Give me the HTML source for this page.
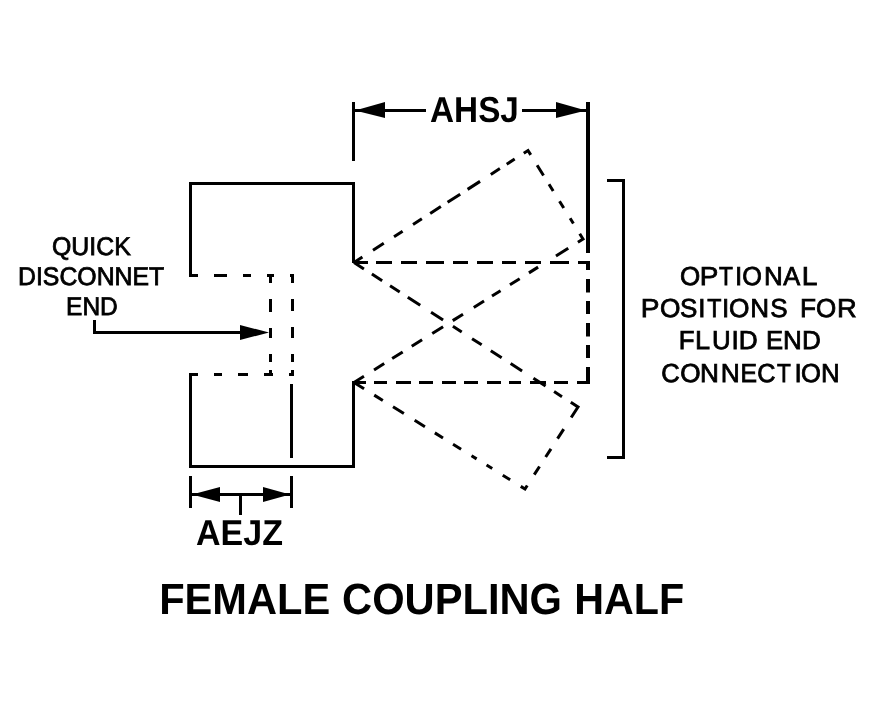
<!DOCTYPE html>
<html><head><meta charset="utf-8">
<style>
html,body{margin:0;padding:0;background:#fff;width:879px;height:708px;overflow:hidden}
svg{display:block;will-change:transform}
text{font-family:"Liberation Sans",sans-serif;fill:#000;text-rendering:geometricPrecision}
</style></head>
<body>
<svg width="879" height="708" viewBox="0 0 879 708">
<g fill="#000" stroke="none">
<rect x="189" y="182" width="3" height="95"/>
<rect x="189" y="182" width="166" height="3"/>
<rect x="352" y="182" width="3" height="81"/>
<rect x="189" y="373" width="3" height="95"/>
<rect x="189" y="465" width="166" height="3"/>
<rect x="352" y="381" width="3" height="87"/>
<rect x="290" y="384" width="3" height="74"/>
<rect x="189" y="274" width="9" height="3"/>
<rect x="214" y="274" width="13" height="3"/>
<rect x="243" y="274" width="8" height="3"/>
<rect x="267" y="274" width="7" height="3"/>
<rect x="290" y="274" width="4" height="3"/>
<rect x="189" y="373" width="9" height="3"/>
<rect x="214" y="373" width="8" height="3"/>
<rect x="238" y="373" width="10" height="3"/>
<rect x="264" y="373" width="9" height="3"/>
<rect x="289" y="373" width="5" height="3"/>
<rect x="269" y="274" width="3" height="9"/>
<rect x="269" y="299" width="3" height="13"/>
<rect x="269" y="328" width="3" height="10"/>
<rect x="269" y="354" width="3" height="8"/>
<rect x="269" y="370" width="3" height="6"/>
<rect x="291" y="274" width="3" height="9"/>
<rect x="291" y="299" width="3" height="12"/>
<rect x="291" y="327" width="3" height="11"/>
<rect x="291" y="354" width="3" height="8"/>
<rect x="291" y="370" width="3" height="6"/>
<rect x="355" y="261" width="13" height="3"/>
<rect x="376" y="261" width="16" height="3"/>
<rect x="401" y="261" width="16" height="3"/>
<rect x="426" y="261" width="18" height="3"/>
<rect x="453" y="261" width="15" height="3"/>
<rect x="477" y="261" width="16" height="3"/>
<rect x="502" y="261" width="14" height="3"/>
<rect x="525" y="261" width="16" height="3"/>
<rect x="550" y="261" width="19" height="3"/>
<rect x="578" y="261" width="12" height="3"/>
<rect x="586" y="261" width="4" height="9"/>
<rect x="586" y="279" width="4" height="13.5"/>
<rect x="586" y="301" width="4" height="13"/>
<rect x="586" y="323" width="4" height="13.5"/>
<rect x="586" y="345" width="4" height="13"/>
<rect x="586" y="367" width="4" height="17"/>
<rect x="355" y="381" width="11" height="3"/>
<rect x="374" y="381" width="13" height="3"/>
<rect x="396" y="381" width="15" height="3"/>
<rect x="419" y="381" width="14" height="3"/>
<rect x="442" y="381" width="14" height="3"/>
<rect x="464" y="381" width="14" height="3"/>
<rect x="487" y="381" width="14" height="3"/>
<rect x="509" y="381" width="12" height="3"/>
<rect x="530" y="381" width="16" height="3"/>
<rect x="554" y="381" width="14" height="3"/>
<rect x="577" y="381" width="13" height="3"/>
<rect x="352" y="102" width="3" height="59"/>
<rect x="586" y="102" width="4" height="151"/>
<rect x="355" y="109" width="71" height="3"/>
<rect x="522" y="109" width="64" height="3"/>
<polygon points="355,110.5 385,102 385,118"/>
<polygon points="586,110.5 556,102 556,118"/>
<rect x="607" y="179" width="18" height="3"/>
<rect x="622" y="179" width="3" height="280"/>
<rect x="607" y="456" width="18" height="3"/>
<rect x="93" y="320" width="3" height="14"/>
<rect x="93" y="331" width="147" height="3"/>
<polygon points="269,332.5 240,325 240,340"/>
<rect x="189" y="476" width="3" height="32"/>
<rect x="290" y="476" width="3" height="32"/>
<rect x="192" y="493" width="98" height="3"/>
<polygon points="192,494.5 220,487 220,502"/>
<polygon points="290,494.5 263,487 263,502"/>
<rect x="239" y="494" width="3" height="21"/>
</g>
<g fill="none" stroke="#000" stroke-width="3" stroke-linejoin="miter">
<path d="M354,262.5 L528,150.5 L583,239 L354,382.5" stroke-dasharray="10.00 12.60 12.80 12.20 10.20 12.40 10.50 9.90 12.70 8.00 15.00 8.80 14.80 12.80 10.80 8.10 9.50 10.80 10.23 12.10 12.10 10.40 7.90 12.00 8.00 12.10 6.20 12.00 12.20 11.40 14.50 21.10 10.80 10.90 11.50 11.10 10.10 9.40 12.10 12.70 12.10 11.40 12.80 12.00 12.20 10.70 12.40 9.40 12.00 11.90 11.75 1000.00"/>
<path d="M354,262.5 L578,407 L525,489 L354,382.5" stroke-dasharray="11.80 9.50 12.20 9.40 11.50 9.60 14.80 12.90 14.30 11.70 10.50 12.30 11.40 10.90 12.90 10.70 13.60 13.50 14.50 10.10 9.40 10.50 21.06 13.80 11.40 12.10 9.80 11.30 9.70 12.90 9.14 12.50 8.70 12.40 6.70 11.70 6.00 12.30 9.50 11.80 9.60 11.70 12.10 12.70 12.80 12.00 10.10 12.00 11.85 1000.00"/>
</g>
<text transform="translate(430.08,122) scale(0.9247,1)" font-weight="bold" font-size="36">AHSJ</text>
<text transform="translate(196.06,545) scale(0.9444,1)" font-weight="bold" font-size="36">AEJZ</text>
<text transform="translate(159.14,614) scale(0.9543,1)" font-weight="bold" font-size="43.6">FEMALE</text>
<text transform="translate(342.09,614) scale(0.9558,1)" font-weight="bold" font-size="43.6">COUPLING</text>
<text transform="translate(574.16,614) scale(0.9464,1)" font-weight="bold" font-size="43.6">HALF</text>
<text transform="translate(52.02,255) scale(0.9750,1)" font-weight="normal" font-size="25.5" stroke="#000" stroke-width="0.8">QUICK</text>
<text transform="translate(18.05,285) scale(0.9730,1)" font-weight="normal" font-size="25.5" stroke="#000" stroke-width="0.8">DISCONNET</text>
<text transform="translate(66.08,315) scale(0.9608,1)" font-weight="normal" font-size="25.5" stroke="#000" stroke-width="0.8">END</text>
<text transform="translate(680.10,285) scale(1.0000,1)" font-size="26" stroke="#000" stroke-width="0.8">O</text>
<text transform="translate(699.86,285) scale(1.0714,1)" font-size="26" stroke="#000" stroke-width="0.8">P</text>
<text transform="translate(719.00,285) scale(0.8750,1)" font-size="26" stroke="#000" stroke-width="0.8">T</text>
<text transform="translate(734.95,285) scale(1.0000,1)" font-size="26" stroke="#000" stroke-width="0.8">I</text>
<text transform="translate(742.23,285) scale(0.9722,1)" font-size="26" stroke="#000" stroke-width="0.8">O</text>
<text transform="translate(764.00,285) scale(1.0000,1)" font-size="26" stroke="#000" stroke-width="0.8">N</text>
<text transform="translate(783.30,285) scale(0.9778,1)" font-size="26" stroke="#000" stroke-width="0.8">A</text>
<text transform="translate(801.83,285) scale(1.0833,1)" font-size="26" stroke="#000" stroke-width="0.8">L</text>
<text transform="translate(640.74,317) scale(1.0786,1)" font-size="26" stroke="#000" stroke-width="0.8">P</text>
<text transform="translate(660.09,317) scale(1.0111,1)" font-size="26" stroke="#000" stroke-width="0.8">O</text>
<text transform="translate(680.00,317) scale(1.0000,1)" font-size="26" stroke="#000" stroke-width="0.8">S</text>
<text transform="translate(698.15,317) scale(1.0000,1)" font-size="26" stroke="#000" stroke-width="0.8">I</text>
<text transform="translate(707.20,317) scale(0.8937,1)" font-size="26" stroke="#000" stroke-width="0.8">T</text>
<text transform="translate(722.05,317) scale(1.0000,1)" font-size="26" stroke="#000" stroke-width="0.8">I</text>
<text transform="translate(728.99,317) scale(1.0111,1)" font-size="26" stroke="#000" stroke-width="0.8">O</text>
<text transform="translate(750.20,317) scale(1.0000,1)" font-size="26" stroke="#000" stroke-width="0.8">N</text>
<text transform="translate(770.20,317) scale(1.0000,1)" font-size="26" stroke="#000" stroke-width="0.8">S</text>
<text transform="translate(799.88,317) scale(1.0077,1)" font-size="26" stroke="#000" stroke-width="0.8">F</text>
<text transform="translate(816.00,317) scale(1.0000,1)" font-size="26" stroke="#000" stroke-width="0.8">O</text>
<text transform="translate(837.00,317) scale(1.0500,1)" font-size="26" stroke="#000" stroke-width="0.8">R</text>
<text transform="translate(678.82,349) scale(0.9923,1)" font-size="26" stroke="#000" stroke-width="0.8">F</text>
<text transform="translate(695.12,349) scale(1.0417,1)" font-size="26" stroke="#000" stroke-width="0.8">L</text>
<text transform="translate(712.01,349) scale(0.9933,1)" font-size="26" stroke="#000" stroke-width="0.8">U</text>
<text transform="translate(731.50,349) scale(1.0000,1)" font-size="26" stroke="#000" stroke-width="0.8">I</text>
<text transform="translate(738.79,349) scale(1.0063,1)" font-size="26" stroke="#000" stroke-width="0.8">D</text>
<text transform="translate(766.03,349) scale(0.9867,1)" font-size="26" stroke="#000" stroke-width="0.8">E</text>
<text transform="translate(783.00,349) scale(1.0000,1)" font-size="26" stroke="#000" stroke-width="0.8">N</text>
<text transform="translate(802.00,349) scale(1.0000,1)" font-size="26" stroke="#000" stroke-width="0.8">D</text>
<text transform="translate(661.22,381.5) scale(0.9824,1)" font-size="26" stroke="#000" stroke-width="0.8">C</text>
<text transform="translate(680.19,381.5) scale(1.0056,1)" font-size="26" stroke="#000" stroke-width="0.8">O</text>
<text transform="translate(699.99,381.5) scale(1.0067,1)" font-size="26" stroke="#000" stroke-width="0.8">N</text>
<text transform="translate(720.87,381.5) scale(1.0133,1)" font-size="26" stroke="#000" stroke-width="0.8">N</text>
<text transform="translate(740.39,381.5) scale(0.9533,1)" font-size="26" stroke="#000" stroke-width="0.8">E</text>
<text transform="translate(757.23,381.5) scale(0.9706,1)" font-size="26" stroke="#000" stroke-width="0.8">C</text>
<text transform="translate(776.90,381.5) scale(0.8687,1)" font-size="26" stroke="#000" stroke-width="0.8">T</text>
<text transform="translate(794.50,381.5) scale(1.0000,1)" font-size="26" stroke="#000" stroke-width="0.8">I</text>
<text transform="translate(801.02,381.5) scale(0.9833,1)" font-size="26" stroke="#000" stroke-width="0.8">O</text>
<text transform="translate(820.91,381.5) scale(0.9933,1)" font-size="26" stroke="#000" stroke-width="0.8">N</text>
</svg>
</body></html>
